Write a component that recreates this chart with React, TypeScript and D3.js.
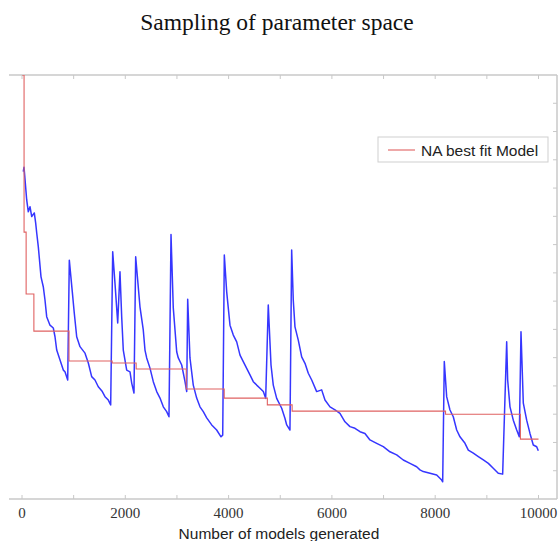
import React from "react";
import * as d3 from "d3";

// Number of models generated (x) and misfit value (y, arbitrary units; axis unlabeled)
const modelX = [25, 39, 91, 122, 155, 188, 238, 265, 285, 316, 368, 412, 445, 478, 542, 606, 639, 672, 736, 800, 832, 885,
  916, 974, 1012, 1059, 1123, 1220, 1284, 1349, 1413, 1477, 1555, 1607, 1671, 1717,
  1756, 1800, 1853, 1897, 1930, 1961, 2027, 2091, 2124, 2168,
  2201, 2284, 2348, 2381, 2414, 2478, 2542, 2608, 2672, 2736, 2801, 2846,
  2885, 2929, 2995, 3026, 3092, 3156, 3189,
  3208, 3252, 3316, 3382, 3446, 3510, 3576, 3673, 3769, 3853, 3886,
  3917, 3963, 4027, 4091, 4157, 4221, 4284, 4350, 4414, 4478, 4544, 4608, 4672, 4718,
  4768, 4821, 4865, 4931, 5028, 5092, 5125, 5188,
  5221, 5252, 5285, 5349, 5415, 5479, 5543, 5609, 5705, 5802, 5866, 5963, 6060, 6156, 6253, 6350, 6447, 6544, 6640, 6737, 6867, 6995, 7124, 7254, 7382, 7512, 7641, 7705, 7769, 7899, 8029, 8125, 8145,
  8176, 8222, 8286, 8350, 8416, 8480, 8577, 8641, 8738, 8835, 8932, 9029, 9124, 9221, 9306,
  9384, 9403, 9448, 9512, 9578, 9628,
  9661, 9706, 9771, 9835, 9899, 9965, 9996];
const modelY = [11.58, 11.74, 10.58, 10.16, 10.34, 9.99, 10.12, 9.76, 9.41, 8.92, 7.86, 7.51, 7.04, 6.45, 6.15, 6.05, 5.74, 5.27, 4.92, 4.56, 4.5, 4.21,
  8.45, 7.33, 6.58, 5.74, 5.39, 5.16, 4.81, 4.33, 4.21, 3.97, 3.8, 3.62, 3.5, 3.33,
  8.75, 7.64, 6.23, 8.04, 6.45, 5.27, 4.56, 4.5, 4.1, 3.75,
  8.57, 6.8, 5.98, 5.27, 4.99, 4.63, 4.15, 3.8, 3.57, 3.26, 3.09, 2.91,
  9.36, 6.76, 5.21, 4.99, 4.74, 4.15, 3.8,
  7.07, 4.99, 4.03, 3.57, 3.26, 3.09, 2.87, 2.62, 2.44, 2.2, 2.26,
  8.63, 7.33, 6.15, 5.8, 5.56, 5.09, 4.86, 4.62, 4.39, 4.15, 4.03, 3.92, 3.8, 3.56,
  6.86, 4.74, 4.03, 3.56, 3.21, 2.85, 2.62, 2.44,
  8.81, 7.04, 6.09, 5.62, 5.03, 4.8, 4.45, 4.21, 3.8, 3.86, 3.5, 3.26, 3.15, 3.03, 2.73, 2.56, 2.5, 2.38, 2.32, 2.09, 1.97, 1.85, 1.67, 1.56, 1.38, 1.26, 1.14, 1.03, 0.97, 0.91, 0.85, 0.67, 0.61,
  4.86, 3.62, 3.15, 2.91, 2.44, 2.2, 1.97, 1.73, 1.62, 1.5, 1.38, 1.26, 1.09, 0.91, 0.88,
  5.56, 4.21, 3.26, 2.79, 2.44, 2.2,
  5.92, 3.39, 2.79, 2.32, 1.91, 1.85, 1.71];

// NA best fit model (step function)
const bestX = [0, 40, 80, 230, 910, 1745, 2210, 3180, 3915, 4750, 5230, 8200, 9650, 10000];
const bestY = [15.0, 9.44, 7.25, 5.94, 4.88, 4.81, 4.6, 3.89, 3.57, 3.33, 3.11, 3.0, 2.12, 2.12];

const xTicks = [0, 1000, 2000, 3000, 4000, 5000, 6000, 7000, 8000, 9000, 10000];
const xTickLabels = ["0", "2000", "4000", "6000", "8000", "10000"];
const yTicks = [1, 2, 3, 4, 5, 6, 7, 8, 9, 10, 11, 12, 13, 14];

const title = "Sampling of parameter space";
const xLabel = "Number of models generated";
const legendLabel = "NA best fit Model";

export default function App() {
  const W = 558, H = 541;
  const frameL = 9, frameR = 557, top = 75, bottom = 499;
  const x = d3.scaleLinear().domain([0, 10000]).range([22, 538.5]);
  const y = d3.scaleLinear().domain([0, 15]).range([bottom, top]);
  const axisColor = "#c8c8c8";

  const modelPts: [number, number][] = modelX.map((v, i) => [v, modelY[i]]);
  const bestPts: [number, number][] = bestX.map((v, i) => [v, bestY[i]]);
  const lineGen = d3.line<[number, number]>().x(d => x(d[0])).y(d => y(d[1]));
  const stepGen = d3.line<[number, number]>().x(d => x(d[0])).y(d => y(d[1])).curve(d3.curveStepAfter);

  return (
    <svg width={W} height={H} style={{ position: "absolute", left: 0, top: 0, background: "#fff" }}>
      <rect x={0} y={0} width={W} height={H} fill="#fff" />
      <text x={277} y={30} textAnchor="middle" fontFamily="'Liberation Serif', 'Times New Roman', serif" fontSize={23.5} fill="#111">{title}</text>

      <defs>
        <clipPath id="plotClip">
          <rect x={frameL} y={top} width={frameR - frameL} height={bottom - top} />
        </clipPath>
      </defs>

      {/* frame */}
      <line x1={frameL} x2={frameR} y1={top} y2={top} stroke={axisColor} strokeWidth={1.5} />
      <line x1={frameL} x2={frameR} y1={bottom} y2={bottom} stroke={axisColor} strokeWidth={1.5} />
      <line x1={frameR} x2={frameR} y1={top} y2={bottom} stroke={axisColor} strokeWidth={1.5} />

      {xTicks.map(t => (
        <g key={"xt" + t}>
          <line x1={x(t)} x2={x(t)} y1={top} y2={top + 4} stroke={axisColor} strokeWidth={1} />
          <line x1={x(t)} x2={x(t)} y1={bottom} y2={bottom - 4} stroke={axisColor} strokeWidth={1} />
        </g>
      ))}
      {yTicks.map(t => (
        <line key={"yt" + t} x1={frameR} x2={frameR - 4} y1={y(t)} y2={y(t)} stroke={axisColor} strokeWidth={1} />
      ))}
      {xTickLabels.map(l => (
        <text key={"xl" + l} x={x(+l)} y={518} textAnchor="middle" fontFamily="'Liberation Serif', 'Times New Roman', serif" fontSize={15} fill="#333">{l}</text>
      ))}

      <g clipPath="url(#plotClip)">
        <path d={lineGen(modelPts) || ""} fill="none" stroke="#3636ff" strokeWidth={1.5} strokeLinejoin="round" />
        <path d={stepGen(bestPts) || ""} fill="none" stroke="#e06262" strokeWidth={1.1} />
      </g>

      {/* legend */}
      <rect x={378} y={137} width={170} height={25} fill="#fff" stroke="#cfcfcf" strokeWidth={1} />
      <line x1={388} x2={415} y1={150} y2={150} stroke="#e06262" strokeWidth={1.1} />
      <text x={421} y={156} fontFamily="'Liberation Sans', Arial, sans-serif" fontSize={15.5} fill="#222">{legendLabel}</text>

      <text x={279} y={539} textAnchor="middle" fontFamily="'Liberation Sans', Arial, sans-serif" fontSize={15.5} fill="#222">{xLabel}</text>
    </svg>
  );
}
